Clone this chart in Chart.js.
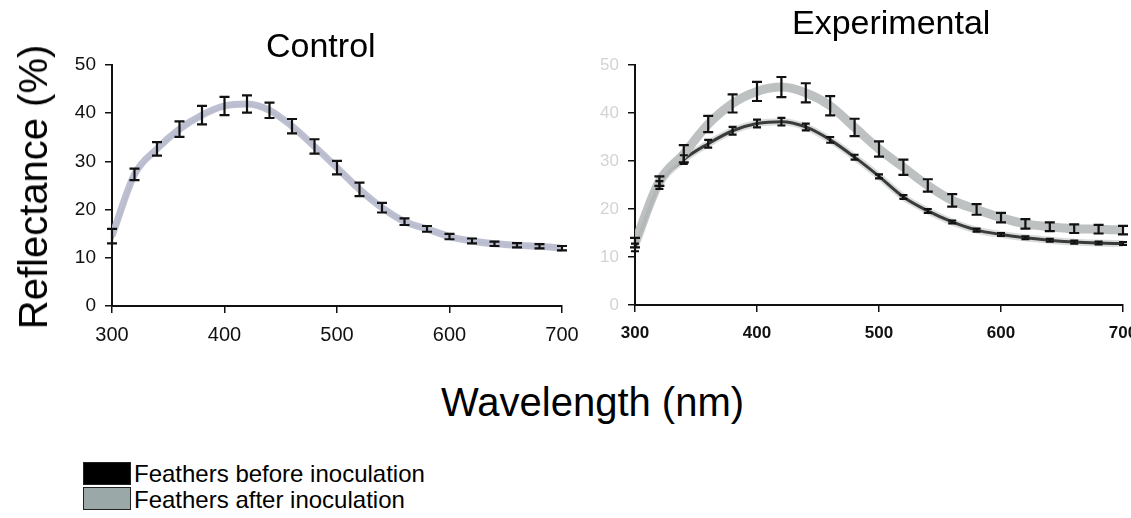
<!DOCTYPE html>
<html>
<head>
<meta charset="utf-8">
<script src="https://cdn.jsdelivr.net/npm/chart.js@4.4.1/dist/chart.umd.min.js"></script>
<style>
	html, body { margin: 0; padding: 0; background: #fff; overflow: hidden; }
	body { width: 1131px; height: 518px; position: relative; font-family: "Liberation Sans", Arial, sans-serif; }
	.box { position: absolute; }
	.txt { position: absolute; color: #000; white-space: nowrap; line-height: 1; }
	.legbox { position: absolute; left: 83px; width: 48px; height: 23px; border: 1px solid #222; box-sizing: border-box; }
</style>
</head>
<body>
<div class="box" style="left:0;top:0;width:590px;height:360px;"><canvas id="ControlChart"></canvas></div>
<div class="box" style="left:590px;top:0;width:560px;height:360px;"><canvas id="ExperimentalChart"></canvas></div>

<div class="txt" style="left:266px;top:28px;font-size:34px;">Control</div>
<div class="txt" style="left:792px;top:5px;font-size:34px;">Experimental</div>
<div class="txt" style="left:33px;top:187px;font-size:40px;transform:translate(-50%,-50%) rotate(-90deg);">Reflectance (%)</div>
<div class="txt" style="left:441px;top:382px;font-size:40px;">Wavelength (nm)</div>

<div class="legbox" style="top:462px;background:#000;"></div>
<div class="legbox" style="top:487px;background:#9aa8a8;"></div>
<div class="txt" style="left:134px;top:462px;font-size:24px;">Feathers before inoculation</div>
<div class="txt" style="left:134px;top:488px;font-size:24px;">Feathers after inoculation</div>

<script>
// Wavelengths (nm)
const wavelengths = [300, 320, 340, 360, 380, 400, 420, 440, 460, 480, 500, 520, 540, 560, 580, 600, 620, 640, 660, 680, 700];
const xTicks = [300, 400, 500, 600, 700];
const yTicks = [0, 10, 20, 30, 40, 50];

// Control panel
const controlBefore = [13.5, 26.8, 32.3, 36.5, 39.4, 41.2, 41.7, 40.5, 37.2, 33.1, 28.8, 24.2, 20.4, 17.5, 15.9, 14.4, 13.5, 12.9, 12.6, 12.4, 12.1];
const controlAfter = [14.5, 27.3, 32.6, 36.7, 39.6, 41.5, 41.9, 40.6, 37.3, 33.1, 28.7, 24.2, 20.4, 17.5, 16.0, 14.4, 13.5, 12.9, 12.6, 12.4, 12.0];
const controlAfterErr = [1.5, 1.2, 1.4, 1.6, 1.9, 1.9, 1.8, 1.6, 1.5, 1.5, 1.4, 1.4, 1.0, 0.7, 0.6, 0.55, 0.5, 0.45, 0.45, 0.45, 0.45];

// Experimental panel
const expBefore = [12.0, 25.0, 30.3, 33.6, 36.3, 37.8, 38.2, 37.1, 34.4, 30.8, 26.8, 22.5, 19.6, 17.3, 15.6, 14.7, 14.0, 13.5, 13.1, 12.9, 12.8];
const expBeforeErr = [0.8, 0.8, 0.9, 0.8, 0.8, 0.8, 0.8, 0.7, 0.6, 0.5, 0.4, 0.4, 0.4, 0.3, 0.3, 0.3, 0.3, 0.3, 0.3, 0.3, 0.3];
const expAfter = [13.0, 25.8, 31.5, 37.7, 42.0, 44.5, 45.4, 44.2, 41.5, 37.0, 32.5, 28.7, 24.9, 21.8, 19.9, 18.2, 16.9, 16.3, 15.9, 15.8, 15.6];
const expAfterErr = [1.0, 1.0, 1.8, 1.7, 1.9, 2.0, 2.1, 2.0, 2.0, 1.8, 1.6, 1.6, 1.3, 1.3, 1.1, 1.0, 1.0, 0.9, 0.9, 0.9, 0.9];

function toPoints(values) {
	return values.map((v, i) => ({ x: wavelengths[i], y: v }));
}

// Draws vertical error bars for datasets that carry an "errors" array
const errorBarPlugin = {
	id: "errorBars",
	afterDatasetsDraw: function (chart) {
		const ctx = chart.ctx;
		const xScale = chart.scales.x;
		const yScale = chart.scales.y;
		chart.data.datasets.forEach((ds) => {
			if (!ds.errors) return;
			ctx.save();
			ctx.strokeStyle = "#111";
			ctx.lineWidth = 2.2;
			ds.data.forEach((p, i) => {
				const e = ds.errors[i];
				const x = xScale.getPixelForValue(p.x);
				const yTop = yScale.getPixelForValue(p.y + e);
				const yBot = yScale.getPixelForValue(p.y - e);
				const cap = ds.capWidth || 5;
				ctx.beginPath();
				ctx.moveTo(x, yTop);
				ctx.lineTo(x, yBot);
				ctx.moveTo(x - cap, yTop);
				ctx.lineTo(x + cap, yTop);
				ctx.moveTo(x - cap, yBot);
				ctx.lineTo(x + cap, yBot);
				ctx.stroke();
			});
			ctx.restore();
		});
	},
};

function makeOptions(cfg) {
	return {
		responsive: true,
		maintainAspectRatio: false,
		animation: false,
		layout: { padding: { top: cfg.top, right: cfg.right, left: 0, bottom: 0 } },
		plugins: { legend: { display: false }, tooltip: { enabled: false } },
		elements: { point: { radius: 0 } },
		scales: {
			x: {
				type: "linear",
				min: 300,
				max: 700,
				afterFit: (s) => { s.height = cfg.xHeight; },
				afterBuildTicks: (s) => { s.ticks = xTicks.map((v) => ({ value: v })); },
				border: { display: true, color: "#111", width: 2 },
				grid: { display: true, drawOnChartArea: false, drawTicks: true, tickLength: 7, color: "#111", lineWidth: 1.5 },
				ticks: {
					autoSkip: false,
					maxRotation: 0,
					padding: cfg.xPad,
					color: "#111",
					font: { family: "Liberation Sans", size: cfg.xFont, weight: cfg.xWeight },
				},
			},
			y: {
				min: 0,
				max: 50,
				afterFit: (s) => { s.width = cfg.yWidth; },
				afterBuildTicks: (s) => { s.ticks = yTicks.map((v) => ({ value: v })); },
				border: { display: true, color: "#111", width: 2 },
				grid: { display: true, drawOnChartArea: false, drawTicks: true, tickLength: 7, color: "#111", lineWidth: 1.5 },
				ticks: {
					padding: 9,
					color: cfg.yColor,
					font: { family: "Liberation Sans", size: cfg.yFont },
				},
			},
		},
	};
}

const controlChart = new Chart(document.getElementById("ControlChart").getContext("2d"), {
	type: "line",
	data: {
		datasets: [
			{
				label: "Feathers after inoculation",
				data: toPoints(controlAfter),
				errors: controlAfterErr,
				capWidth: 5,
				borderColor: "rgba(185,189,205,0.95)",
				borderWidth: 7,
				tension: 0.4,
				cubicInterpolationMode: "monotone",
			},
			{
				label: "Feathers before inoculation",
				data: toPoints(controlBefore),
				borderColor: "rgba(70,80,170,0.55)",
				borderWidth: 1.5,
				tension: 0.4,
				cubicInterpolationMode: "monotone",
			},
		],
	},
	options: makeOptions({ top: 65, right: 28, xHeight: 54, yWidth: 112, xPad: 10, xFont: 20, xWeight: "normal", yFont: 19, yColor: "#111" }),
	plugins: [errorBarPlugin],
});

const experimentalChart = new Chart(document.getElementById("ExperimentalChart").getContext("2d"), {
	type: "line",
	data: {
		datasets: [
			{
				label: "Feathers after inoculation",
				data: toPoints(expAfter),
				errors: expAfterErr,
				capWidth: 5,
				borderColor: "rgba(185,190,190,0.95)",
				borderWidth: 9,
				tension: 0.4,
				cubicInterpolationMode: "monotone",
			},
			{
				label: "shadow",
				data: toPoints(expBefore),
				borderColor: "rgba(150,155,155,0.35)",
				borderWidth: 7,
				tension: 0.4,
				cubicInterpolationMode: "monotone",
			},
			{
				label: "Feathers before inoculation",
				data: toPoints(expBefore),
				errors: expBeforeErr,
				capWidth: 4,
				borderColor: "#0a0a0a",
				borderWidth: 3,
				tension: 0.4,
				cubicInterpolationMode: "monotone",
			},
		],
	},
	options: makeOptions({ top: 65, right: 27, xHeight: 55, yWidth: 45, xPad: 11, xFont: 17, xWeight: "bold", yFont: 17, yColor: "#d2d4d4" }),
	plugins: [errorBarPlugin],
});
</script>
</body>
</html>
